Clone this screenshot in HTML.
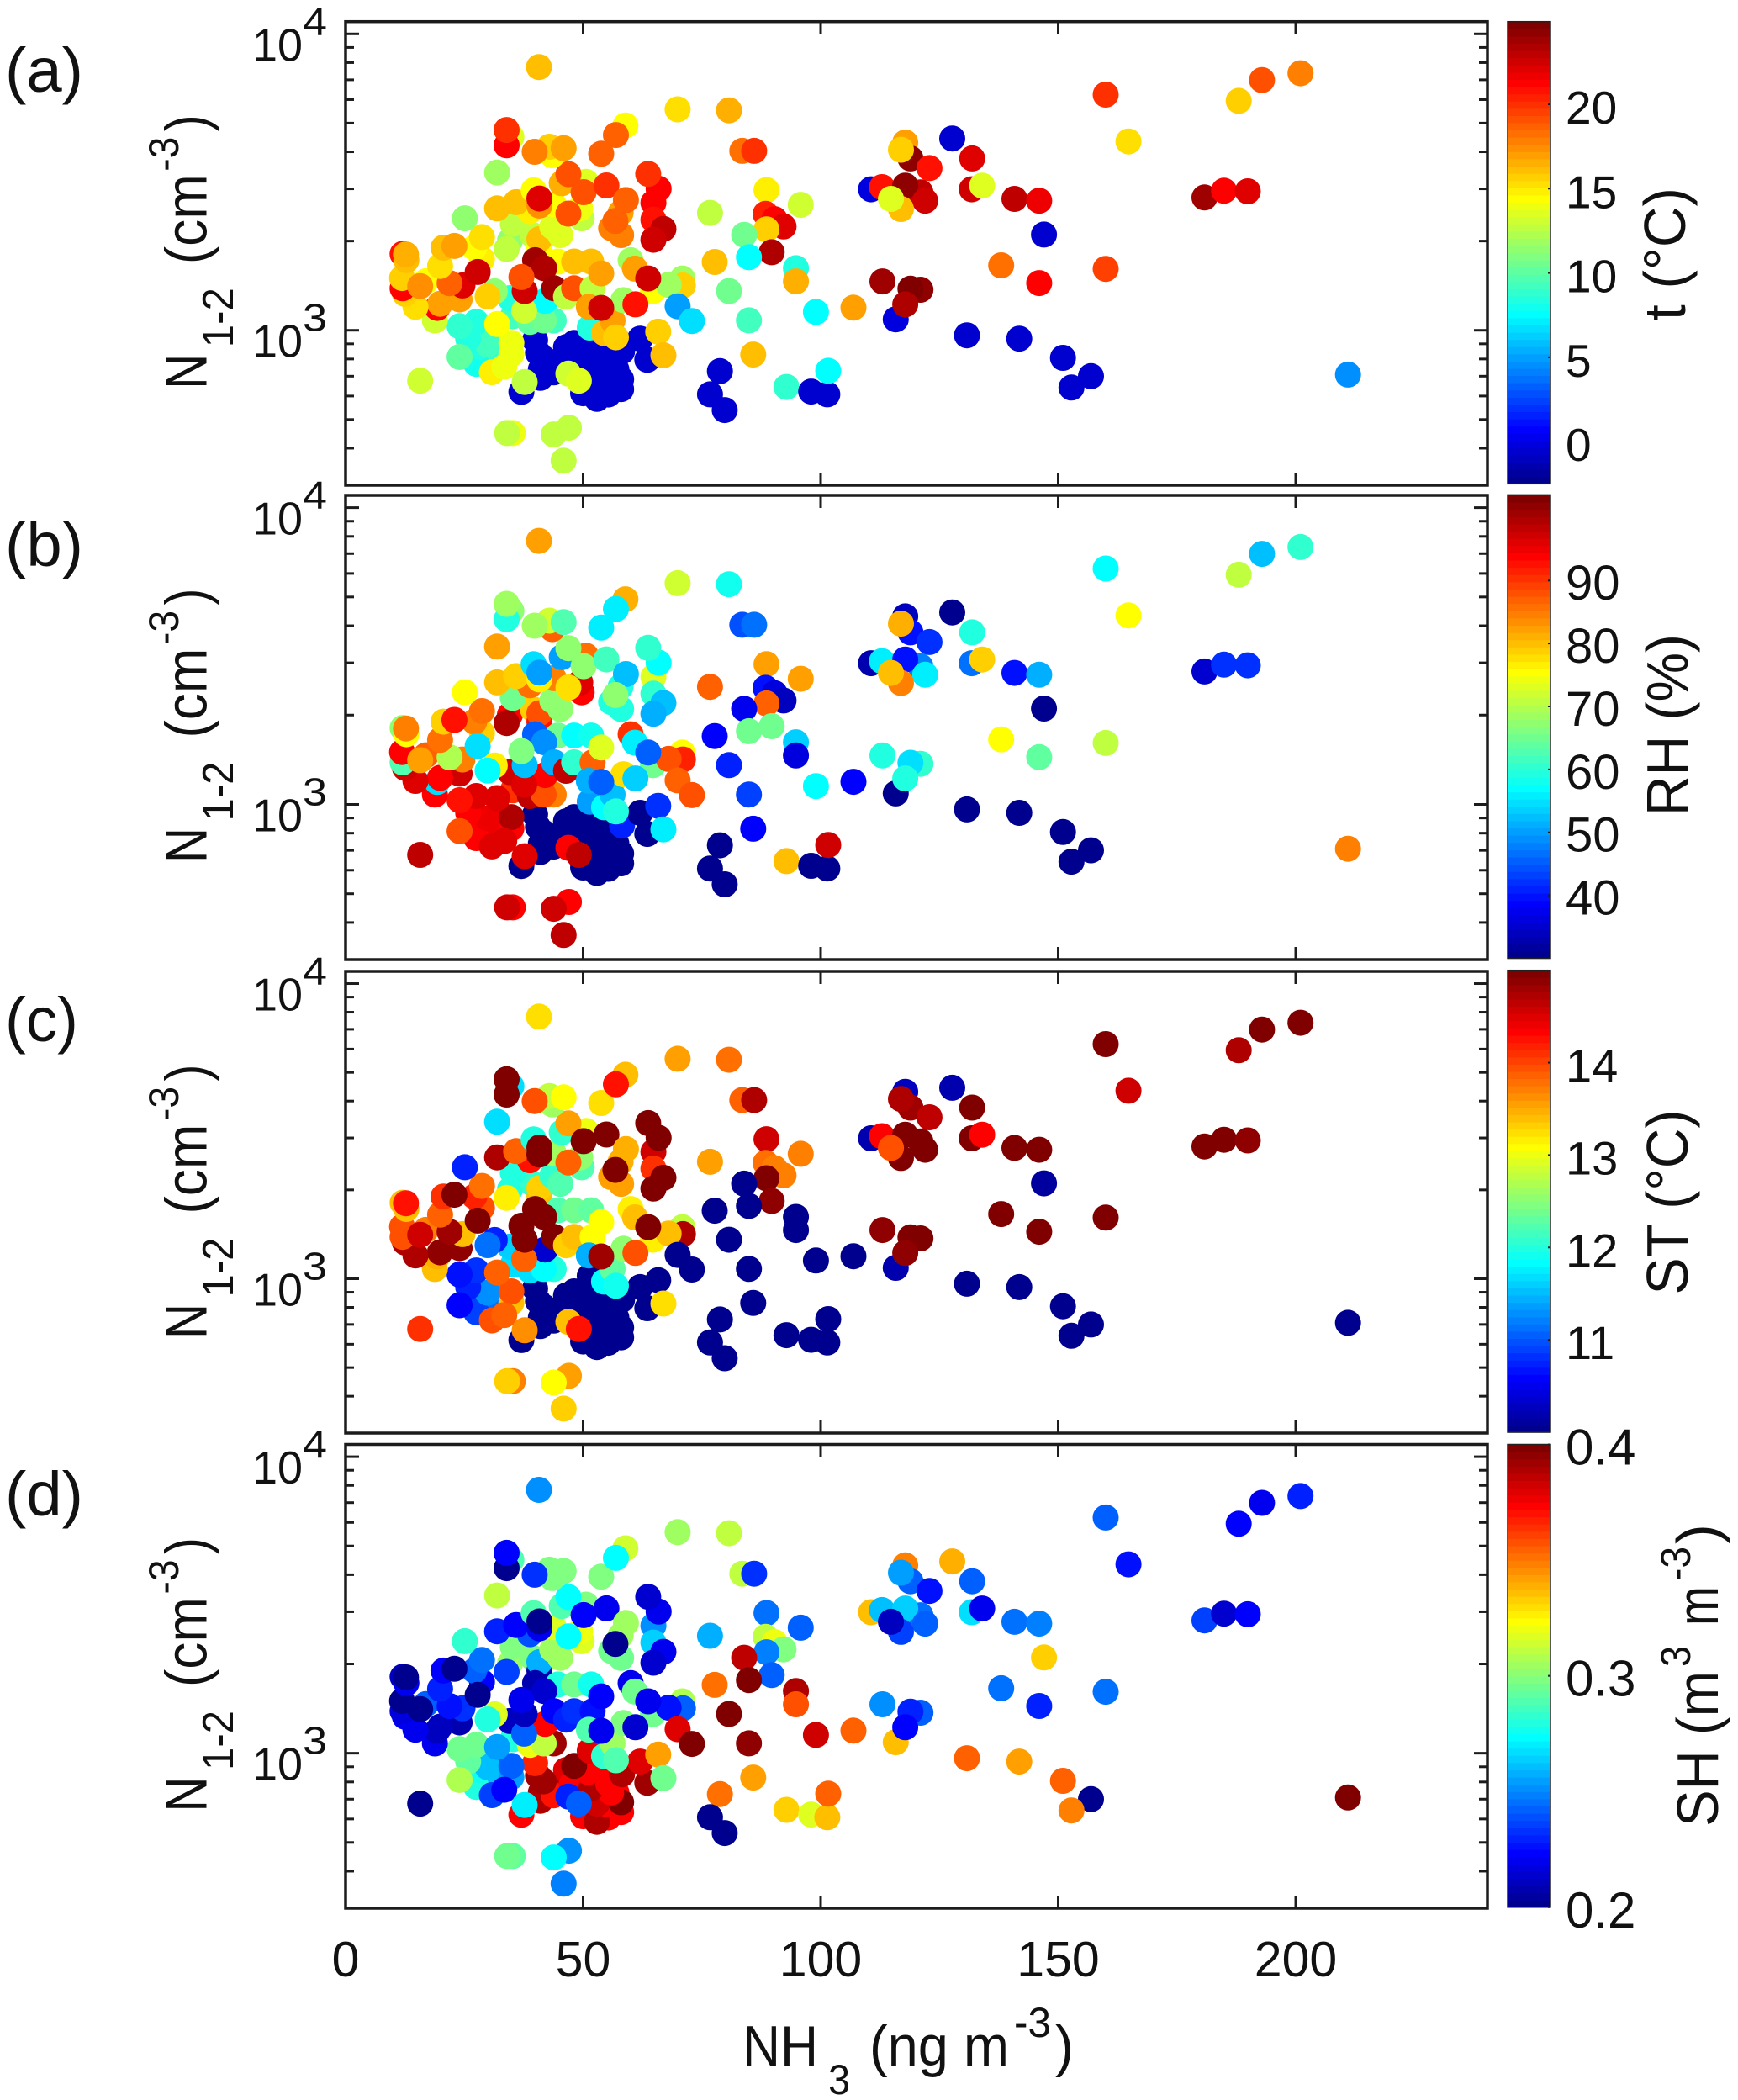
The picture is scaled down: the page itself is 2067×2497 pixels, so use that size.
<!DOCTYPE html>
<html lang="en">
<head>
<meta charset="utf-8">
<title>N1-2 versus NH3 scatter panels</title>
<style>
html,body{margin:0;padding:0;background:#fff}
svg{display:block}
text{font-family:"Liberation Sans",Arial,sans-serif;fill:#111}
</style>
</head>
<body>
<svg id="chart" xmlns="http://www.w3.org/2000/svg" width="2067" height="2497" viewBox="0 0 2067 2497"></svg>
<script>
const nh3 = [
40.5,43.5,41.1,50,50.6,54.1,57,55.3,46.4,26.9,30.5,32.3,
37,50,52.9,58,54.7,52.9,58,55.9,41,43.8,47.6,51.7,55.3,41.7,51.1,63.5,58.2,48.1,39.9,62,
27.5,28.1,29.9,25.8,27.5,24,24,43.8,35.2,38.8,41.7,34.6,42,51.4,54.4,56.2,56.9,65.8,66.9,
34.9,34.9,30.8,33.4,31.9,37.6,37.7,46.9,49.1,15.7,35.2,34,47,43.8,45.9,
18.8,19.3,24,19.9,14.7,12.5,12,31.4,29.9,24.6,16.9,11.9,15.7,21.9,12,12.8,12.7,19.9,28.7,27.1,20.6,28.7,22.9,27.8,25.1,
34.6,39.4,33.9,40.8,40.8,35.2,43.5,45.2,38.8,43.8,49.7,49.4,31.9,35.9,39.6,40.8,40.8,50.6,45.5,46.9,50.1,46.9,54.9,57.9,55.9,58,59,56.8,64.8,64.8,65.9,63.7,66.9,64.8,
34.9,33.9,33.9,43.5,42.9,39.8,45.9,58.9,53.8,56.9,31.9,40.7,
44.7,48.1,51.7,39.9,41.8,37.7,37,43.9,46.4,48.1,52,53.8,60,60.9,64.7,70.9,71,68,63.7,58.5,51.2,53.8,61,69.9,72.9,
69.9,80.7,83.5,86,88.6,95.8,76.7,88.4,90.3,92.2,88.6,83.9,89.7,84.9,77.7,94.8,94.8,80.7,84.9,99,85.8,78.8,76.7,79.8,92.8,98,101.4,101.6,106.9,
117.8,118.9,116.9,127.7,110.6,112.9,122.9,131.9,131.8,134,121,117.8,122,116.9,114.8,140.8,146,180.8,184.9,189.9,147,138,146,160,113,121,118.9,115.8,117.8,130.8,141.8,151,156.9,152.8,211,160,164.8,188,192.9,201
];
const n12 = [
840,770,737,877,737,858,737,607,877,840,804,937,
620,613,587,633,676,676,683,737,691,721,787,762,787,804,863,795,849,906,926,937,
770,877,897,937,1067,1033,813,1079,1115,1067,1079,1284,1256,1021,978,1079,947,989,824,
831,906,722,753,1050,1164,669,714,676,676,450,450,469,445,363,
1079,1190,1270,1229,1200,1327,1386,1353,1300,1417,1464,1501,1409,1442,1810,1723,1802,1649,1741,1900,1900,2063,1926,1573,2387,
2006,2096,1880,1900,2028,2286,2237,2096,2521,2663,2387,2577,2577,2706,2968,2636,2782,3169,3134,3362,2924,2476,3080,2494,2212,2096,2750,2337,2692,2362,3002,3369,2197,2020,
4490,4208,4740,3896,4160,4000,4116,4910,3940,4557,3404,7730,
1706,1706,1706,1723,1620,1356,1512,1386,1298,1386,1386,1555,1723,1614,1356,1496,1417,1423,1496,1264,1200,1190,1223,1205,1075,
5565,5520,4030,4030,2970,2650,2490,2470,2370,2240,2190,2100,1834,1765,1700,1620,1462,1356,1080,1153,828,728,608,538,644,621,608,730,1192,
4300,3800,4063,4436,2990,3040,3525,3800,2990,3077,2920,3077,2735,2565,2775,2775,2735,2806,2957,2943,2104,1656,1443,1611,1462,1370,1381,1089,1223,962,937,807,700,641,709,6237,4335,5943,6987,7367
];
const temperature = [
-0.6,-0.6,-0.6,-0.6,-0.6,-0.6,-0.6,-0.6,-0.6,8.2,9,11.2,
-0.6,-0.6,-0.6,-0.6,-0.6,-0.6,-0.6,-0.6,-0.6,-0.6,-0.6,-0.6,-0.6,-0.6,-0.6,-0.6,-0.6,-0.6,-0.6,-0.6,
7.9,8.5,9.3,8.5,8.5,9,10.1,9.3,9.3,10.1,10.4,8.5,7.4,8.5,16.4,17.2,15.6,15.6,16.4,
13.9,14.2,14.8,13.9,14.5,13.1,12.8,13.1,13.4,13.1,13.9,12.6,12.8,12.6,12.6,
13.1,21.6,17.2,17.2,15.3,15.6,21.3,11.2,15.9,22.2,14.5,15.9,17.5,18.6,21.1,16.1,16.7,15.3,15,14.5,16.4,15.3,17.2,22.7,11.2,
11.2,12.8,12.6,14.5,16.4,12.8,13.4,13.4,15,14.5,12.8,13.9,16.1,16.1,14.5,17.5,22.4,13.4,16.7,19.1,19.1,19.4,20.2,17.2,17.8,17.8,18.6,18.6,21.3,20.8,21.3,20.2,23,22.7,
13.4,21.3,20.2,14.5,15.9,17.8,17.2,14.5,18.6,18.6,11.7,16.1,
14.5,16.1,16.4,24.1,23.5,22.7,19.1,24.1,12.8,19.1,12.6,17.2,11.7,17,14.5,12,15.6,11.7,22.7,12,17.2,22.7,21.1,4.9,6.5,
15.3,16.7,18.3,20,15,13.1,12.8,20.5,21.3,22.4,15.9,10.7,23.8,7.6,16.1,8.2,16.7,10.4,9.3,7.4,16.4,-0.6,-0.6,-0.6,8.7,-0.6,-0.6,7.4,17.2,
17.2,24.4,15.6,-0.6,-0.3,20.8,21.1,22.2,22.7,13.4,23,24.4,22.7,16.1,13.4,23,21.9,24.1,21.3,22.2,-0.6,18.3,21.3,19.7,24.1,24.6,24.9,-0.3,23.5,-0.6,-0.6,-0.6,-0.6,-0.6,4.4,20.2,15.3,15.9,19.1,18.1
];
const relHumidity = [
30,30,30,30,30,30,30,30,30,94.8,95.5,94,
30,30,30,30,30,30,30,30,30,30,30,30,30,30,30,30,41,30,30,30,
94,94.8,95.5,94.8,96.2,93.3,88.9,85.2,91.1,98.4,88.1,97.7,94,49.9,57.2,52.1,59.4,41.8,55.8,
94.8,99.9,96.2,96.2,97,96.2,96.2,94,99.2,99.2,94.8,97.7,94.8,97.7,98.4,
94.8,54.3,97.7,94.8,97,97.7,62.4,76.4,57.2,84.5,87.4,94,83,69.7,66.8,75.6,84.5,85.9,78.6,84.5,78.6,85.9,93.3,55,75.6,
94.8,78.6,99.9,93.3,88.9,64.6,66.8,66.8,85.9,84.5,94,96.2,80,78.6,55,76.4,49.9,85.9,49.9,66.8,66.8,77.8,61.6,58.7,58.7,59.4,52.1,66.8,72.7,60.2,56.5,60.9,52.1,50.6,
66.8,59.4,69,86.7,72,68.3,62.4,81.5,55.8,55.8,83,82.3,
65.3,56.5,58,44.7,48.4,52.1,66.1,50.6,98.4,60.9,86.7,73.4,91.1,55.8,65.3,75.6,91.8,88.9,45.5,77.8,51.3,45.5,52.8,86.7,88.9,
72,58,44,46.9,82.3,83,86.7,38.8,35.9,33.7,87.4,37.4,64.6,64.6,38.1,52.8,35.9,40.3,43.2,56.5,38.1,30,30,30,80,30,30,97.7,38.1,
33.7,38.8,81.5,30,32.2,55.8,41.8,58.7,46.2,79.3,47.7,38.8,55.8,84.5,80,38.8,51.3,35.2,41.8,41.8,30,75.6,63.9,70.5,59.4,60.9,55,30,58.7,30,30,30,30,30,84.5,56.5,75.6,70.5,52.1,60.2
];
const soilTemp = [
10,10,10,10,10,10,10,10,10,10.7,11.1,13.6,
10,10,10,10,10,10,10,10,10,10,10,10,10,10,10,10,10,10,10,10,
10.9,10.9,11.25,10.7,10.8,10.6,10.55,11.95,11.65,11.7,11.8,11.6,10.35,10,11.8,12.3,11.9,10,13.25,
13.4,13.95,13.95,13.9,13.85,13.85,13.65,13.45,14.25,14.15,13.75,13.3,13.55,13.1,13.3,
13.4,13.5,14.9,14.95,14.8,14.75,14,10.75,11.1,13.4,13.75,13.95,14.6,14.85,13.4,13.4,14.3,13.9,14,14.2,14.1,13.8,15,15,10.75,
12,12.1,13.2,13.4,13.3,12,12.1,12.2,14.3,12.6,12.2,12.5,14.8,13.85,12,15,15,13,12.1,13.6,15,13.85,15,13.5,13.6,13.6,13.5,15,14.6,14.15,15,15,15,15,
11.7,15,15,12.6,12.75,13.95,13.1,13.4,13.25,14.3,11.65,13.25,
12.2,12.4,12.3,15,15,15,15,15,13.3,13.4,13.1,13.1,13.2,13.4,13.15,12.8,14.75,13.45,15,12.5,11.45,14.85,14,10,10,
13.6,13.8,13.85,14.75,14.6,13.75,13.6,13.8,13.7,13.7,15,10,14.9,10,10,10,10,10,10,10,10,10,10,10,10,10,10,10,10,
10.25,14.85,14.8,10.15,10.15,14.4,14.65,15,15,14.35,15,15,15,15,14,15,15,15,15,14.9,10.1,15,15,15,14.95,15,15,10.15,14.9,10,10,10,10,10,10,15,14.6,14.8,15,15
];
const soilHumidity = [
.394,.39,.394,.38,.38,.376,.374,.374,.38,.284,.26,.24,
.374,.374,.39,.374,.374,.384,.4,.374,.392,.372,.376,.39,.374,.394,.374,.394,.392,.4,.368,.38,
.28,.276,.26,.292,.294,.294,.308,.394,.28,.32,.31,.21,.374,.38,.284,.304,.29,.344,.294,
.254,.242,.236,.222,.254,.24,.27,.23,.24,.2,.292,.294,.25,.272,.248,
.22,.21,.206,.21,.22,.22,.216,.316,.278,.232,.24,.2,.2,.226,.21,.218,.2,.23,.222,.24,.222,.246,.2,.2,.282,
.304,.3,.236,.206,.256,.298,.304,.304,.238,.316,.316,.32,.228,.222,.288,.22,.2,.3,.29,.274,.222,.274,.22,.306,.294,.294,.306,.2,.25,.264,.22,.214,.22,.214,
.288,.2,.222,.3,.3,.232,.3,.314,.3,.274,.31,.25,
.28,.296,.276,.206,.212,.208,.218,.222,.23,.232,.224,.222,.22,.294,.296,.308,.24,.226,.218,.3,.288,.218,.214,.382,.4,
.304,.312,.312,.232,.244,.24,.258,.312,.32,.3,.248,.386,.242,.4,.352,.39,.36,.4,.396,.384,.342,.352,.2,.2,.334,.318,.336,.354,.354,
.35,.242,.254,.34,.336,.26,.226,.24,.266,.22,.244,.264,.24,.234,.208,.244,.248,.234,.214,.222,.332,.244,.23,.244,.252,.24,.23,.336,.222,.354,.342,.354,.2,.35,.4,.242,.226,.222,.22,.228
];
const xTicks = [0, 50, 100, 150, 200];
const xDomain = [0, 240.35];
const yDomain = [300, 11000];
const yMajorExponents = [3, 4];
const yMinorTicks = [300, 400, 500, 600, 700, 800, 900, 2000, 3000, 4000, 5000, 6000, 7000, 8000, 9000];
const tempTicks = [0, 5, 10, 15, 20];
const rhTicks = [40, 50, 60, 70, 80, 90];
const stTicks = [11, 12, 13, 14];
const shTicks = [0.2, 0.3, 0.4];
const tempRange = [-2.5, 24.9];
const rhRange = [30, 103.6];
const stRange = [10, 15];
const shRange = [0.2, 0.4];

const svg = document.getElementById('chart');
const NS = 'http://www.w3.org/2000/svg';
const LEFT = 411, RIGHT = 1769, BAR_L = 1793, BAR_R = 1844;

function make(tag, parent, attrs) {
  const el = document.createElementNS(NS, tag);
  for (const k in attrs) el.setAttribute(k, attrs[k]);
  parent.appendChild(el);
  return el;
}
function label(parent, str, x, y, size, name, len, rotated) {
  const attrs = {x: x, y: y, 'font-size': size};
  if (rotated) { attrs.x = 0; attrs.y = 0; attrs.transform = 'translate(' + x + ',' + y + ') rotate(-90)'; }
  if (len) { attrs.textLength = len; attrs.lengthAdjust = 'spacingAndGlyphs'; }
  const el = make('text', parent, attrs);
  el.textContent = str;
  
  
  return el;
}
function uRamp(k) {
  if (k < 1 || k > 47) return 0;
  if (k <= 16) return k / 16;
  if (k <= 31) return 1;
  return (48 - k) / 16;
}
function jetColor(f) {
  const c = Math.max(0, Math.min(1, f));
  const j = Math.round(c * 63) + 1;
  const r = Math.round(255 * uRamp(j - 24));
  const g = Math.round(255 * uRamp(j - 8));
  const b = Math.round(255 * uRamp(j + 8));
  return 'rgb(' + r + ',' + g + ',' + b + ')';
}
function xScale(v) {
  return LEFT + (v - xDomain[0]) / (xDomain[1] - xDomain[0]) * (RIGHT - LEFT);
}
function yScaleFor(top, bottom) {
  const lo = Math.log10(yDomain[0]), hi = Math.log10(yDomain[1]);
  return function (v) { return bottom - (Math.log10(v) - lo) / (hi - lo) * (bottom - top); };
}
function line(parent, x1, y1, x2, y2, w, name) {
  const el = make('line', parent, {x1: x1, y1: y1, x2: x2, y2: y2, stroke: '#1c1c1c', 'stroke-width': w});
  
  
  return el;
}

function drawPanel(p) {
  const g = make('g', svg, {});
  
  
  const yScale = yScaleFor(p.top, p.bottom);

  // points
  const pts = make('g', g, {});
  
  
  for (let i = 0; i < nh3.length; i++) {
    const f = (p.values[i] - p.range[0]) / (p.range[1] - p.range[0]);
    const c = make('circle', pts, {cx: xScale(nh3[i]).toFixed(1), cy: yScale(n12[i]).toFixed(1), r: 15.5, fill: jetColor(f)});
    
    
  }

  // frame
  const frame = make('rect', g, {x: LEFT, y: p.top, width: RIGHT - LEFT, height: p.bottom - p.top, fill: 'none', stroke: '#1c1c1c', 'stroke-width': 3.5});
  
  

  // x ticks
  xTicks.forEach(function (v) {
    const x = xScale(v);
    if (v !== 0) {
      line(g, x, p.bottom, x, p.bottom - 15, 3, 'x-tick');
      line(g, x, p.top, x, p.top + 15, 3, 'x-tick');
    }
    if (p.showX) {
      const t = label(g, String(v), x, 2350, 59, 'x-tick-label');
      t.setAttribute('text-anchor', 'middle');
    }
  });

  // y ticks
  yMinorTicks.forEach(function (v) {
    const y = yScale(v);
    if (v <= yDomain[0]) return;
    line(g, LEFT, y, LEFT + 10, y, 3, 'y-minor-tick');
    line(g, RIGHT, y, RIGHT - 10, y, 3, 'y-minor-tick');
  });
  yMajorExponents.forEach(function (e) {
    const y = yScale(Math.pow(10, e));
    line(g, LEFT, y, LEFT + 16, y, 3, 'y-major-tick');
    line(g, RIGHT, y, RIGHT - 16, y, 3, 'y-major-tick');
    label(g, '10', 300, y + 32, 55, 'y-tick-label', 60);
    label(g, String(e), 360, y + 1, 46, 'y-tick-exponent', 29);
  });

  // y title
  const t0 = p.top;
  label(g, 'N', 245.5, t0 + 437, 70, 'y-title-n', 42, true);
  label(g, '1-2', 277, t0 + 387.5, 52, 'y-title-subscript', 71, true);
  label(g, '(cm', 245.5, t0 + 288.6, 70, 'y-title-unit', 107, true);
  label(g, '-3', 212, t0 + 178, 50, 'y-title-exponent', 41, true);
  label(g, ')', 245.5, t0 + 130.5, 70, 'y-title-close', 20, true);

  // panel letter
  const letter = label(g, p.letter, 6, p.letterY, 74, 'panel-label', p.letterLen);
  letter.setAttribute('data-panel', p.id);

  // colorbar
  const bar = make('g', g, {});
  
  
  const h = (p.barBottom - p.barTop) / 64;
  for (let s = 0; s < 64; s++) {
    const yy = p.barBottom - (s + 1) * h;
    make('rect', bar, {x: BAR_L, y: yy.toFixed(2), width: BAR_R - BAR_L, height: (h + 0.6).toFixed(2), fill: jetColor(s / 63)});
  }
  make('rect', bar, {x: BAR_L, y: p.barTop, width: BAR_R - BAR_L, height: p.barBottom - p.barTop, fill: 'none', stroke: '#222', 'stroke-width': 1.5});
  p.ticks.forEach(function (v) {
    const y = p.barBottom - (v - p.range[0]) / (p.range[1] - p.range[0]) * (p.barBottom - p.barTop);
    line(bar, BAR_R, y, BAR_R - 3, y, 2, 'colorbar-tick');
    label(bar, p.tickText(v), 1862, y + p.tickDy, p.tickSize, 'colorbar-tick-label');
  });
  p.titleParts.forEach(function (q) {
    label(bar, q[0], q[1], q[2], q[3], 'colorbar-title', q[4], true);
  });
}

const panels = [
  {id: 'a', letter: '(a)', letterLen: 93, letterY: 109, top: 25.7, bottom: 577, barTop: 25.7, barBottom: 575.3,
   values: temperature, range: tempRange, ticks: tempTicks, tickDy: 23, tickSize: 55,
   tickText: function (v) { return String(v); },
   titleParts: [['t (\u00B0C)', 2004, 381, 70, 158]]},
  {id: 'b', letter: '(b)', letterLen: 93, letterY: 673, top: 589, bottom: 1141, barTop: 588.4, barBottom: 1139.5,
   values: relHumidity, range: rhRange, ticks: rhTicks, tickDy: 23, tickSize: 58,
   tickText: function (v) { return String(v); },
   titleParts: [['RH (%)', 2007, 970, 70, 216]]},
  {id: 'c', letter: '(c)', letterLen: 87, letterY: 1238, top: 1155, bottom: 1704, barTop: 1153.7, barBottom: 1703,
   values: soilTemp, range: stRange, ticks: stTicks, tickDy: 23, tickSize: 56,
   tickText: function (v) { return String(v); },
   titleParts: [['ST (\u00B0C)', 2007, 1539.5, 70, 220]]},
  {id: 'd', letter: '(d)', letterLen: 93, letterY: 1802, top: 1717.5, bottom: 2269, barTop: 1717.5, barBottom: 2267.8, showX: true,
   values: soilHumidity, range: shRange, ticks: shTicks, tickDy: 24, tickSize: 60,
   tickText: function (v) { return v.toFixed(1); },
   titleParts: [['SH (m', 2043, 2172, 70, 185], ['3', 2010, 1982, 50, 25], ['m', 2043, 1933, 70, 47], ['-3', 2010, 1880, 50, 41], [')', 2043, 1836, 70, 24]]}
];
panels.forEach(drawPanel);

// shared x-axis title
const xt = make('g', svg, {});


label(xt, 'NH', 883, 2456, 68, 'x-title-nh', 90);
label(xt, '3', 985, 2490, 50, 'x-title-subscript', 26);
label(xt, '(ng m', 1034, 2456, 68, 'x-title-unit', 166);
label(xt, '-3', 1206, 2422, 50, 'x-title-exponent', 44);
label(xt, ')', 1255, 2456, 68, 'x-title-close', 22);
</script>
</body>
</html>
